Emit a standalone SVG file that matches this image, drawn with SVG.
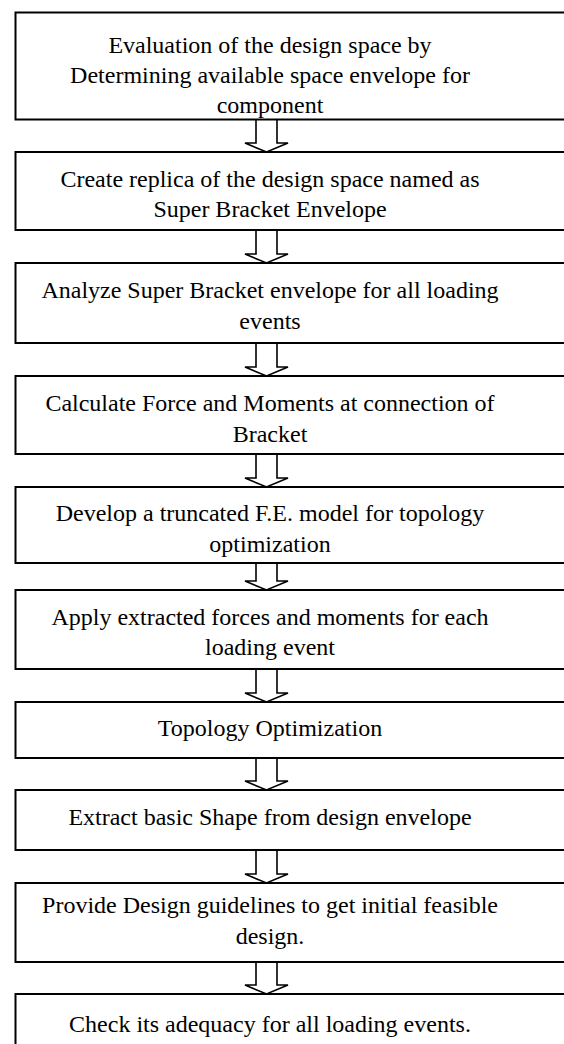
<svg xmlns="http://www.w3.org/2000/svg" width="564" height="1044" viewBox="0 0 564 1044">
<style>
.box{fill:#fff;stroke:#000;stroke-width:2}
.arr{fill:#fff;stroke:#000;stroke-width:1.6;stroke-linejoin:miter}
text{font-family:"Liberation Serif","Times New Roman",serif;font-size:24px;fill:#000;text-anchor:middle}
</style>
<rect width="564" height="1044" fill="#fff"/>
<g id="connectors">
<path class="arr" d="M256,119 V143 H245 L266.5,152 L288,143 H277 V119"/>
<path class="arr" d="M256,230 V254 H245 L266.5,263 L288,254 H277 V230"/>
<path class="arr" d="M256,343 V367 H245 L266.5,376 L288,367 H277 V343"/>
<path class="arr" d="M256,454 V478 H245 L266.5,487 L288,478 H277 V454"/>
<path class="arr" d="M256,563 V581 H245 L266.5,590 L288,581 H277 V563"/>
<path class="arr" d="M256,669 V693 H245 L266.5,702 L288,693 H277 V669"/>
<path class="arr" d="M256,758 V781 H245 L266.5,790 L288,781 H277 V758"/>
<path class="arr" d="M256,850 V874 H245 L266.5,883 L288,874 H277 V850"/>
<path class="arr" d="M256,962 V985 H245 L266.5,994 L288,985 H277 V962"/>
</g>
<g id="n1"><rect class="box" x="15.5" y="12.5" width="600" height="107"/>
<text x="270" y="53">Evaluation of the design space by</text>
<text x="270" y="83">Determining available space envelope for</text>
<text x="270" y="113">component</text></g>
<g id="n2"><rect class="box" x="15.5" y="152" width="600" height="78"/>
<text x="270" y="187">Create replica of the design space named as</text>
<text x="270" y="217">Super Bracket Envelope</text></g>
<g id="n3"><rect class="box" x="15.5" y="263" width="600" height="80"/>
<text x="270" y="298">Analyze Super Bracket envelope for all loading</text>
<text x="270" y="329">events</text></g>
<g id="n4"><rect class="box" x="15.5" y="376" width="600" height="78"/>
<text x="270" y="411">Calculate Force and Moments at connection of</text>
<text x="270" y="442">Bracket</text></g>
<g id="n5"><rect class="box" x="15.5" y="487" width="600" height="76"/>
<text x="270" y="521">Develop a truncated F.E. model for topology</text>
<text x="270" y="552">optimization</text></g>
<g id="n6"><rect class="box" x="15.5" y="590" width="600" height="79"/>
<text x="270" y="625">Apply extracted forces and moments for each</text>
<text x="270" y="655">loading event</text></g>
<g id="n7"><rect class="box" x="15.5" y="702" width="600" height="56"/>
<text x="270" y="736">Topology Optimization</text></g>
<g id="n8"><rect class="box" x="15.5" y="790" width="600" height="60"/>
<text x="270" y="825">Extract basic Shape from design envelope</text></g>
<g id="n9"><rect class="box" x="15.5" y="883" width="600" height="79"/>
<text x="270" y="913">Provide Design guidelines to get initial feasible</text>
<text x="270" y="944">design.</text></g>
<g id="n10"><rect class="box" x="15.5" y="994" width="600" height="80"/>
<text x="270" y="1032">Check its adequacy for all loading events.</text></g>
</svg>
